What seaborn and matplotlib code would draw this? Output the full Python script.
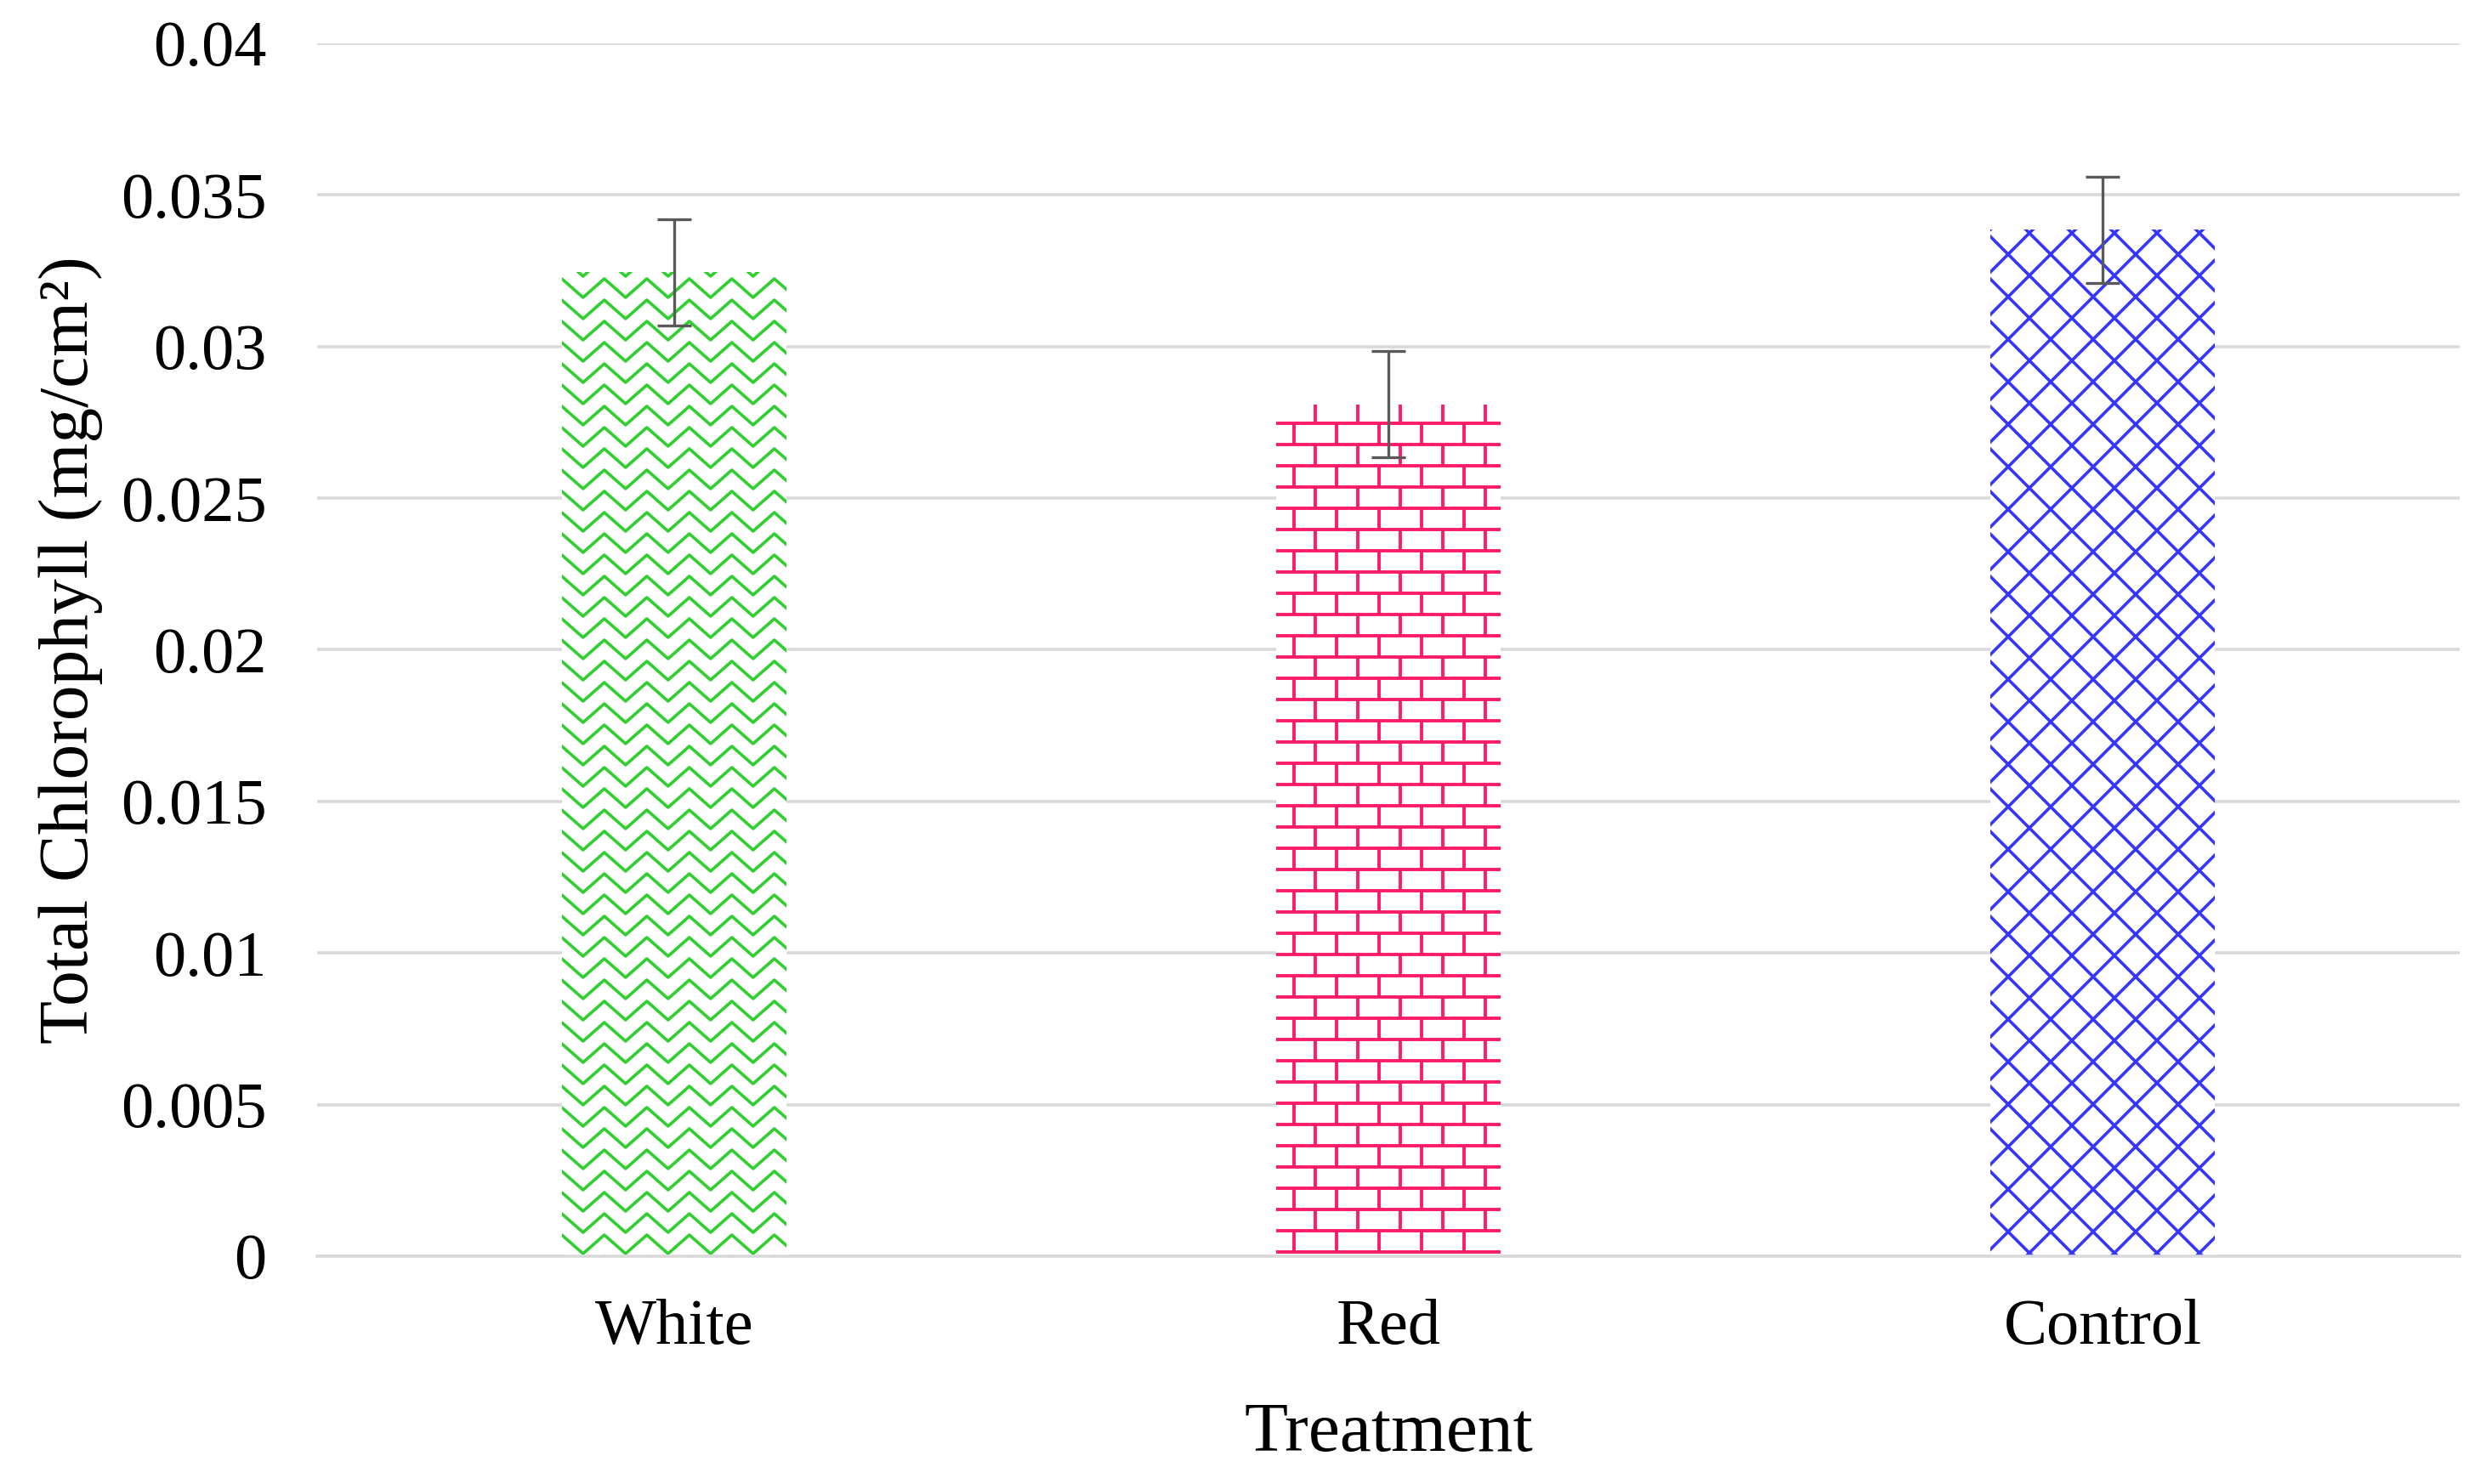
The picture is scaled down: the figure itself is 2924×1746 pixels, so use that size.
import numpy as np
import pandas as pd
import matplotlib
matplotlib.use("Agg")
import matplotlib.pyplot as plt
import seaborn as sns
from matplotlib.collections import LineCollection
from matplotlib.transforms import IdentityTransform

# valores
treatments = ["White", "Red", "Control"]
chlorophyll = [0.03245, 0.02810, 0.03385]
std_error = [0.00175, 0.00176, 0.00175]
y_ticks = [0, 0.005, 0.01, 0.015, 0.02, 0.025, 0.03, 0.035, 0.04]

pattern_colors = ["#2fcf2f", "#ff1a6a", "#3535ff"]
pattern_kinds = ["zigzag", "brick", "lattice"]

sns.set_style("white")
plt.rcParams["font.family"] = ["Liberation Serif", "DejaVu Serif"]
plt.rcParams["text.color"] = "black"
plt.rcParams["axes.labelcolor"] = "black"

GRID = "#d9d9d9"


def zigzag_segments(x0, y0, x1, y1, gap=25, half=25, amp=22):
    segs = []
    y = y0 - amp
    while y < y1 + amp:
        xs = np.arange(x0 - half, x1 + 2 * half, half)
        ys = y + amp * (np.arange(len(xs)) % 2)
        segs.append(np.column_stack([xs, ys]))
        y += gap
    return segs


def brick_segments(x0, y0, x1, y1, gap=25, step=50, start=21):
    segs = []
    k = 0
    y = y0 + 5
    while y < y1 + gap:
        if y <= y1:
            segs.append([(x0, y), (x1, y)])
        off = start if k % 2 == 0 else start + step / 2
        for xv in np.arange(x0 + off - step, x1 + step, step):
            segs.append([(xv, y), (xv, y + gap)])
        y += gap
        k += 1
    return segs


def lattice_segments(x0, y0, x1, y1, step=50):
    segs = []
    h = y1 - y0
    for c in np.arange(x0 - h - step, x1 + step, step):
        segs.append([(c, y0), (c + h + step, y0 + h + step)])
    for c in np.arange(x0 - step, x1 + h + step, step):
        segs.append([(c, y0), (c - h - step, y0 + h + step)])
    return segs


fig, ax = plt.subplots(figsize=(14.62, 8.73), dpi=200)
fig.subplots_adjust(left=0.1276, right=0.9894, bottom=0.1535, top=0.9708)

df = pd.DataFrame({"Treatment": treatments, "Chlorophyll": chlorophyll})
sns.barplot(data=df, x="Treatment", y="Chlorophyll", color="white",
            saturation=1, width=0.315, linewidth=0, errorbar=None, ax=ax)

ax.set_xlim(-0.5, len(treatments) - 0.5)
ax.set_ylim(0, 0.04)
ax.set_yticks(y_ticks)
ax.set_yticklabels([f"{v:g}" for v in y_ticks])

# padrões de preenchimento (desenhados em pixels, recortados pela barra)
for patch, kind, col in zip(ax.patches, pattern_kinds, pattern_colors):
    bb = patch.get_window_extent()
    if kind == "zigzag":
        segs, lw = zigzag_segments(bb.x0, bb.y0, bb.x1, bb.y1), 1.3
    elif kind == "brick":
        segs, lw = brick_segments(bb.x0, bb.y0, bb.x1, bb.y1), 1.4
    else:
        segs, lw = lattice_segments(bb.x0, bb.y0, bb.x1, bb.y1), 1.3
    lc = LineCollection(segs, colors=col, linewidths=lw,
                        transform=IdentityTransform(), zorder=2.5)
    ax.add_collection(lc, autolim=False)
    lc.set_clip_path(patch)

ax.errorbar(x=np.arange(len(treatments)), y=chlorophyll, yerr=std_error,
            fmt="none", ecolor="#595959", elinewidth=1.2, capsize=7.2,
            capthick=1.2, zorder=4)

ax.yaxis.grid(True, color=GRID, linewidth=1.3)
ax.set_axisbelow(True)
for side in ["top", "right", "left"]:
    ax.spines[side].set_visible(False)
ax.spines["bottom"].set_color(GRID)
ax.spines["bottom"].set_linewidth(1.3)

ax.tick_params(axis="both", length=0, labelsize=27.5, colors="black")
ax.tick_params(axis="y", pad=21.5)
ax.tick_params(axis="x", pad=18)

ax.set_xlabel("Treatment", fontsize=30, labelpad=19)
ax.set_ylabel("Total Chlorophyll (mg/cm²)", fontsize=30, labelpad=7.3)

fig.savefig("out.png", dpi=200)
